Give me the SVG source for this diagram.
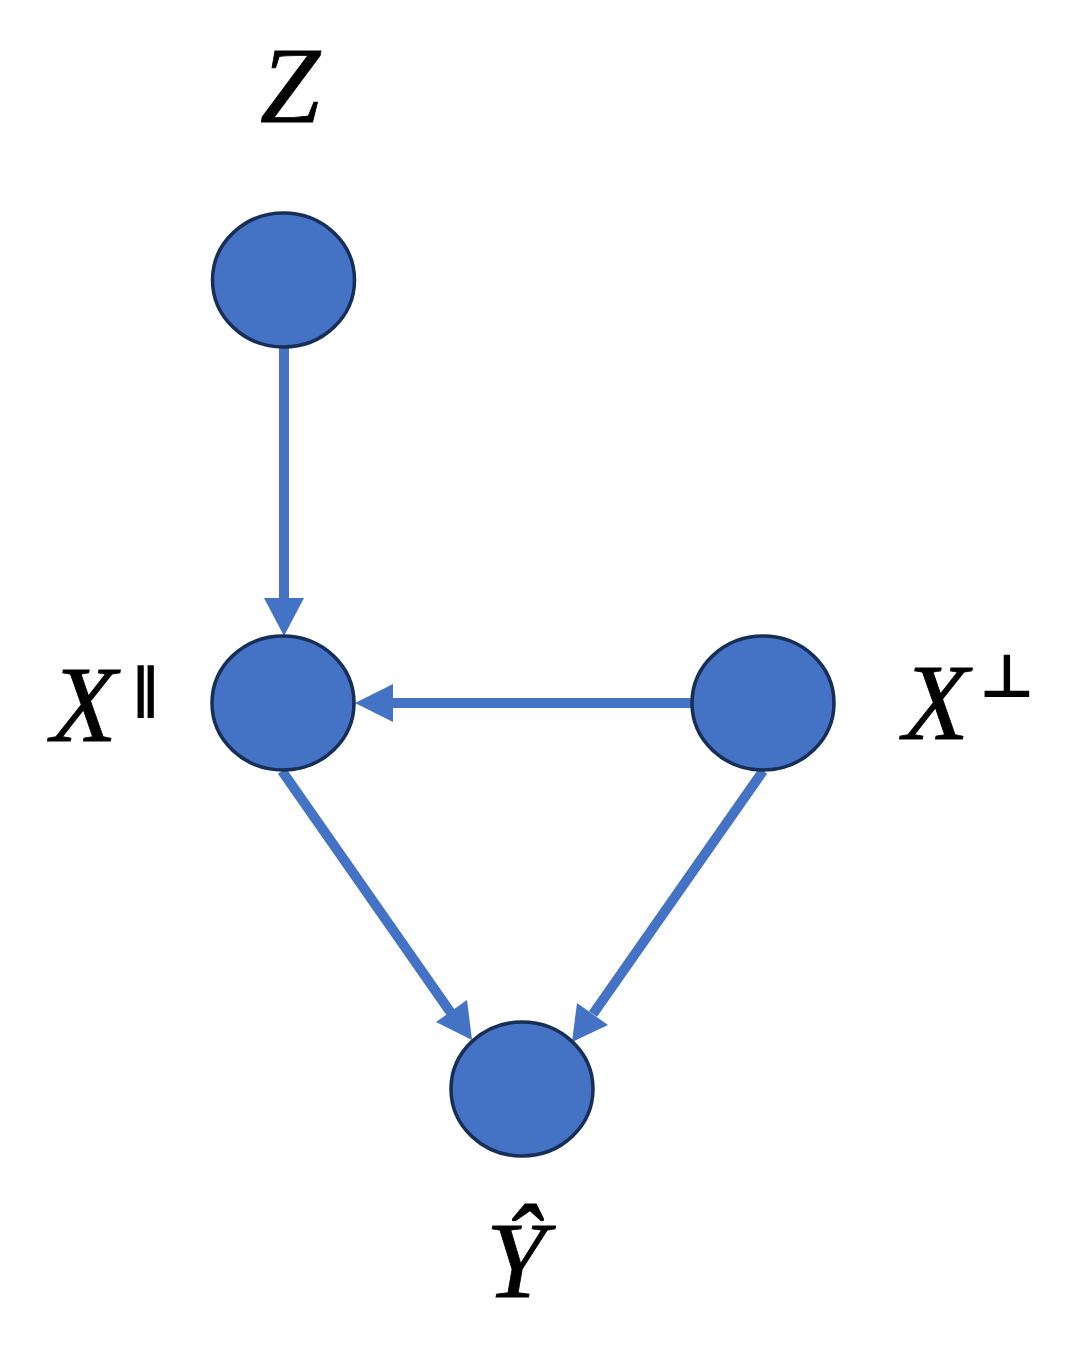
<svg xmlns="http://www.w3.org/2000/svg" width="1090" height="1347" viewBox="0 0 1090 1347">
<style>
.node{fill:#4472C4;stroke:#172f57;stroke-width:3.5}
.edge{stroke:#4472C4;stroke-width:10;fill:none}
.lbl{font-family:"Liberation Serif","DejaVu Serif",serif;font-style:italic;font-size:108px;fill:#000;stroke:#000;stroke-width:0.8}
.sup{font-family:"DejaVu Sans","Liberation Sans",sans-serif;fill:#000;font-weight:bold}
</style>
<rect width="1090" height="1347" fill="#fff"/>
<g id="connectors">
<line class="edge" x1="284" y1="348" x2="284" y2="600"/>
<path d="M264,598 L304,598 L284,636 Z" fill="#4472C4"/>
<line class="edge" x1="691" y1="703" x2="392" y2="703"/>
<path d="M393,684 L393,722 L355,703 Z" fill="#4472C4"/>
<line class="edge" x1="282" y1="771" x2="451" y2="1013"/>
<line class="edge" x1="763" y1="771" x2="593" y2="1014"/>
<path d="M436,1022 L467,1000 L472,1040 Z" fill="#4472C4"/>
<path d="M577,1003 L608,1025 L572,1042 Z" fill="#4472C4"/>
</g>
<g id="node-z">
<ellipse class="node" cx="283.5" cy="280" rx="71" ry="67"/>
<text class="lbl" x="290" y="122" text-anchor="middle">Z</text>
</g>
<g id="node-xpar">
<ellipse class="node" cx="283" cy="703" rx="71" ry="67"/>
<text class="lbl" x="84" y="741" text-anchor="middle">X</text>
<text class="sup" x="145" y="707" font-size="54" text-anchor="middle">∥</text>
</g>
<g id="node-xperp">
<ellipse class="node" cx="763" cy="703" rx="71" ry="67"/>
<text class="lbl" x="936" y="739" text-anchor="middle">X</text>
<text class="sup" x="1007" y="697" font-size="60" text-anchor="middle">⊥</text>
</g>
<g id="node-yhat">
<ellipse class="node" cx="522" cy="1089" rx="71" ry="67"/>
<text class="lbl" x="516" y="1297" text-anchor="middle">Ŷ</text>
</g>
</svg>
